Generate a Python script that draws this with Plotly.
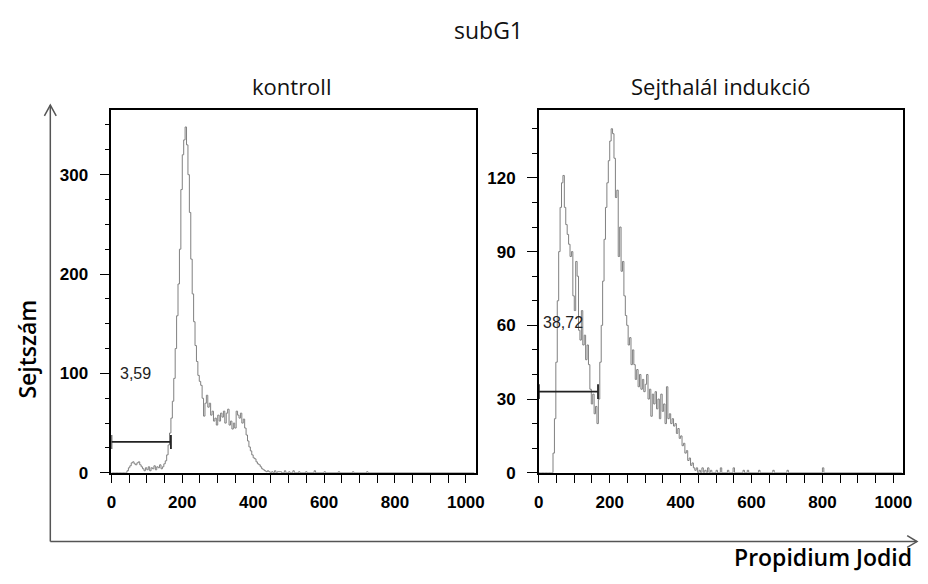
import numpy as np
import plotly.graph_objects as go

W, H = 928, 584

# ---------------- data ----------------
bin_width = 4
ctrl_counts = [0, 0, 0, 0, 0, 0, 0, 0, 0, 0, 0,
               2, 5, 7, 10, 11, 9, 8, 10, 11, 8, 6, 4, 2, 5, 3, 6, 2, 5, 4, 7, 3, 6, 5, 8, 4, 6, 9,
               12, 18, 28, 40, 55, 72, 95, 125, 158, 190, 225, 285, 320, 335, 348, 330, 300, 262,
               215, 180, 152, 128, 112, 98, 92, 88, 75, 57, 70, 78, 66, 70, 58, 62, 52, 55, 48, 58,
               52, 60, 56, 62, 50, 60, 64, 48, 52, 44, 50, 45, 62, 58, 55, 60, 50, 54, 45, 38, 32,
               26, 22, 18, 15, 14, 11, 9, 8, 6, 4, 3, 2, 1, 2, 1, 0]
ctrl_tail_x = [452, 456, 460, 464, 468, 476, 480, 488, 492, 500, 504, 512, 516, 528, 532, 548, 552,
               572, 576, 600, 604, 640, 644, 680, 684, 720, 724, 1024]
ctrl_tail_y = [1, 0, 2, 0, 1, 1, 0, 2, 0, 1, 0, 2, 0, 1, 0, 1, 0, 2, 0, 1, 0, 1, 0, 1, 0, 1, 0, 0]

ind_counts = [0, 0, 0, 0, 0, 0, 0, 0, 0, 0,
              8, 22, 45, 70, 90, 108, 118, 121, 108, 101, 97, 93, 88, 90, 72, 66, 86, 80, 58, 54,
              66, 52, 56, 46, 52, 44, 34, 28, 32, 24, 27, 20, 30, 45, 60, 78, 95, 108, 118, 127,
              135, 140, 138, 128, 112, 115, 88, 100, 82, 86, 72, 64, 60, 52, 55, 44, 50, 44, 38,
              42, 35, 40, 34, 38, 33, 36, 40, 30, 34, 23, 32, 28, 33, 26, 30, 22, 32, 25, 28, 20,
              35, 22, 24, 20, 22, 19, 20, 16, 18, 14, 15, 11, 12, 8, 9, 5, 6, 3, 4, 2, 1, 2, 0]
ind_tail_x = [452, 456, 460, 464, 468, 472, 476, 480, 484, 488, 500, 504, 512, 516, 532, 536, 548,
              552, 576, 580, 588, 592, 620, 624, 660, 664, 700, 704, 800, 804, 1024]
ind_tail_y = [1, 0, 2, 0, 1, 0, 2, 0, 1, 0, 1, 0, 2, 0, 1, 0, 2, 0, 1, 0, 1, 0, 1, 0, 1, 0, 1, 0,
              2, 0, 0]

# gates: [x start, x end, level, cap half-height]
ctrl_gate = [0, 168, 31, 7]
ind_gate = [0, 167, 33, 3]
ctrl_label, ind_label = "3,59", "38,72"
ctrl_label_pos = [18, 100]
ind_label_pos = [6, 61]

x_ticks = list(range(0, 1001, 50))
x_labels = [str(v) if v % 200 == 0 else "" for v in x_ticks]

# ---------------- figure ----------------
def px(x):
    return x / W

def py(y):
    return 1 - y / H

ctrl_x = list(np.arange(len(ctrl_counts)) * bin_width) + ctrl_tail_x
ctrl_y = ctrl_counts + ctrl_tail_y
ind_x = list(np.arange(len(ind_counts)) * bin_width) + ind_tail_x
ind_y = ind_counts + ind_tail_y

fig = go.Figure()
curve = dict(color="#808080", width=1, shape="hv")
fig.add_trace(go.Scatter(x=ctrl_x, y=ctrl_y, mode="lines", line=curve, xaxis="x", yaxis="y",
                         showlegend=False, hoverinfo="skip"))
fig.add_trace(go.Scatter(x=ind_x, y=ind_y, mode="lines", line=curve, xaxis="x2", yaxis="y2",
                         showlegend=False, hoverinfo="skip"))

def gate_trace(g, xa, ya):
    x0, x1, lv, h = g
    return go.Scatter(x=[x0, x0, None, x0, x1, None, x1, x1],
                      y=[lv - h, lv + h, None, lv, lv, None, lv - h, lv + h],
                      mode="lines", line=dict(color="#222222", width=1.8),
                      xaxis=xa, yaxis=ya, showlegend=False, hoverinfo="skip", cliponaxis=False)

fig.add_trace(gate_trace(ctrl_gate, "x", "y"))
fig.add_trace(gate_trace(ind_gate, "x2", "y2"))

tickfont = dict(family="Liberation Sans, Arial", size=17, color="black", weight="bold")
xcommon = dict(range=[0, 1028], tickmode="array", tickvals=x_ticks, ticktext=x_labels,
               ticks="outside", ticklen=8, tickwidth=1.2, tickcolor="black",
               ticklabelstandoff=5,
               showline=True, mirror=True, linecolor="black", linewidth=1.5,
               showgrid=False, zeroline=False, tickfont=tickfont, fixedrange=True)
ycommon = dict(ticks="outside", ticklen=10, tickwidth=1.2, tickcolor="black",
               ticklabelstandoff=8,
               showline=True, mirror=True, linecolor="black", linewidth=1.5,
               showgrid=False, zeroline=False, tickfont=tickfont, fixedrange=True)

ydom = [py(481), py(112)]
fig.update_layout(
    width=W, height=H, margin=dict(l=0, r=0, t=0, b=0),
    paper_bgcolor="white", plot_bgcolor="white",
    xaxis=dict(domain=[px(108), px(478)], anchor="y", **xcommon),
    yaxis=dict(domain=ydom, anchor="x", range=[0, 365], tickvals=[0, 100, 200, 300],
               minor=dict(dtick=25, tick0=0, ticks="outside", ticklen=5, tickcolor="black"),
               **ycommon),
    xaxis2=dict(domain=[px(542), px(912)], anchor="y2", **xcommon),
    yaxis2=dict(domain=ydom, anchor="x2", range=[0, 147.6], tickvals=[0, 30, 60, 90, 120],
                minor=dict(dtick=10, tick0=0, ticks="outside", ticklen=5, tickcolor="black"),
                **ycommon),
)

title_font = dict(family="Open Sans", size=22, color="#111111")
ann = [
    dict(text="subG1", x=px(491), y=py(31), font=dict(family="Open Sans", size=23, color="#111111")),
    dict(text="kontroll", x=px(291), y=py(88), font=title_font),
    dict(text="Sejthalál indukció", x=px(726), y=py(88), font=title_font),
    dict(text="Sejtszám", x=px(22), y=py(355), textangle=-90,
         font=dict(family="Open Sans", size=23, color="black", weight=600)),
    dict(text="Propidium Jodid", x=px(831), y=py(567),
         font=dict(family="Open Sans", size=23, color="black", weight=600)),
]
for a in ann:
    a.update(xref="paper", yref="paper", showarrow=False, xanchor="center", yanchor="middle")
fig.update_layout(annotations=ann)
fig.add_annotation(text=ctrl_label, x=ctrl_label_pos[0], y=ctrl_label_pos[1], xref="x", yref="y",
                   showarrow=False, xanchor="left", yanchor="middle",
                   font=dict(family="Liberation Sans, Arial", size=16, color="#222222"))
fig.add_annotation(text=ind_label, x=ind_label_pos[0], y=ind_label_pos[1], xref="x2", yref="y2",
                   showarrow=False, xanchor="left", yanchor="middle",
                   font=dict(family="Liberation Sans, Arial", size=16, color="#222222"))

# big axis arrows
arrow_col = "#555555"
fig.add_shape(type="line", xref="paper", yref="paper", x0=px(46), x1=px(46), y0=py(551), y1=py(107),
              line=dict(color=arrow_col, width=1.5))
fig.add_shape(type="line", xref="paper", yref="paper", x0=px(46), x1=px(926), y0=py(551), y1=py(551),
              line=dict(color=arrow_col, width=1.5))
fig.add_shape(type="path", xref="paper", yref="paper",
              path=f"M {px(40)} {py(118)} L {px(46)} {py(107)} L {px(52)} {py(118)}",
              line=dict(color=arrow_col, width=1.5))
fig.add_shape(type="path", xref="paper", yref="paper",
              path=f"M {px(916)} {py(545)} L {px(926)} {py(551)} L {px(916)} {py(557)}",
              line=dict(color=arrow_col, width=1.5))

fig.write_html("out.html")
